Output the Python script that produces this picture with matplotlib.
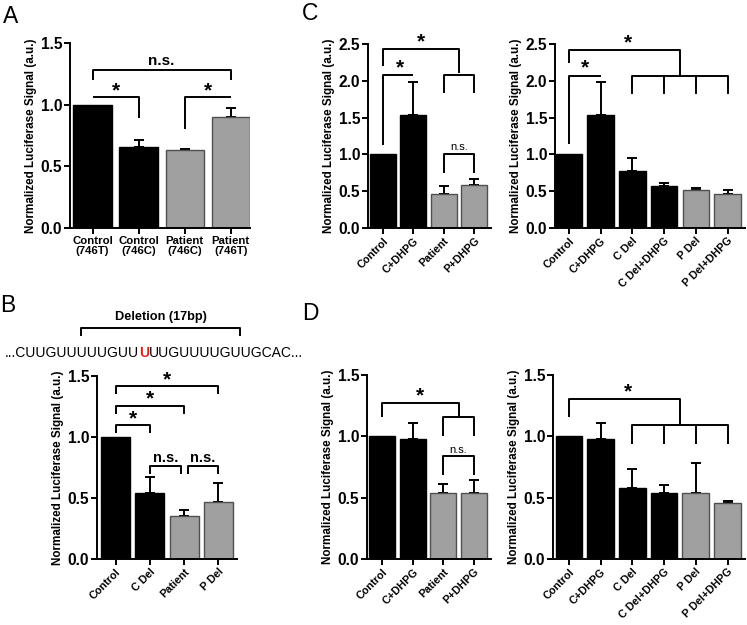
import matplotlib
matplotlib.use("Agg")
import matplotlib.pyplot as plt

plt.rcParams['font.family'] = ['Liberation Sans', 'DejaVu Sans']

W, H = 747, 625

BLACK = '#000000'
GRAY = '#a0a0a0'

# ---- data ----
a_labels = ['Control\n(746T)', 'Control\n(746C)', 'Patient\n(746C)', 'Patient\n(746T)']
a_vals = [1.00, 0.66, 0.63, 0.90]
a_errs = [0.00, 0.05, 0.01, 0.07]
a_cols = [BLACK, BLACK, GRAY, GRAY]

b_labels = ['Control', 'C Del', 'Patient', 'P Del']
b_vals = [1.00, 0.54, 0.355, 0.47]
b_errs = [0.00, 0.13, 0.045, 0.15]
b_cols = [BLACK, BLACK, GRAY, GRAY]

c4_labels = ['Control', 'C+DHPG', 'Patient', 'P+DHPG']
c4_vals = [1.00, 1.54, 0.46, 0.58]
c4_errs = [0.00, 0.44, 0.11, 0.08]
c4_cols = [BLACK, BLACK, GRAY, GRAY]

c6_labels = ['Control', 'C+DHPG', 'C Del', 'C Del+DHPG', 'P Del', 'P Del+DHPG']
c6_vals = [1.00, 1.54, 0.77, 0.575, 0.515, 0.46]
c6_errs = [0.00, 0.44, 0.18, 0.04, 0.025, 0.06]
c6_cols = [BLACK, BLACK, BLACK, BLACK, GRAY, GRAY]

d4_labels = ['Control', 'C+DHPG', 'Patient', 'P+DHPG']
d4_vals = [1.00, 0.98, 0.54, 0.54]
d4_errs = [0.00, 0.13, 0.07, 0.10]
d4_cols = [BLACK, BLACK, GRAY, GRAY]

d6_labels = ['Control', 'C+DHPG', 'C Del', 'C Del+DHPG', 'P Del', 'P Del+DHPG']
d6_vals = [1.00, 0.98, 0.58, 0.54, 0.54, 0.46]
d6_errs = [0.00, 0.13, 0.15, 0.06, 0.24, 0.01]
d6_cols = [BLACK, BLACK, BLACK, BLACK, GRAY, GRAY]

seq_pre = '...CUUGUUUUUGUU'
seq_mut = 'U'
seq_post = 'UUGUUUUGUUGCAC...'

YLABEL = 'Normalized Luciferase Signal (a.u.)'


def make_ax(fig, l, r, t, b):
    return fig.add_axes([l / W, 1 - b / H, (r - l) / W, (b - t) / H])


def bar_panel(ax, labels, vals, errs, cols, ymax, xlim, rot=0, width=0.84):
    x = list(range(len(vals)))
    edges = ['#000000' if c == BLACK else '#505050' for c in cols]
    ax.bar(x, vals, width=width, color=cols, edgecolor=edges, linewidth=1.0, zorder=2)
    for xi, v, e in zip(x, vals, errs):
        if e > 0:
            ax.errorbar(xi, v, yerr=[[0], [e]], fmt='none', ecolor='black',
                        elinewidth=1.4, capsize=3.3, capthick=1.4, zorder=1)
    ax.set_ylim(0, ymax)
    ax.set_xlim(*xlim)
    ticks = [i * 0.5 for i in range(int(ymax / 0.5) + 1)]
    ax.set_yticks(ticks)
    ax.set_yticklabels(['%.1f' % t for t in ticks], fontsize=11.2, fontweight='bold')
    ax.set_xticks(x)
    if rot:
        ax.set_xticklabels(labels, rotation=45, ha='right', rotation_mode='anchor',
                           fontsize=7.8, fontweight='bold')
    else:
        ax.set_xticklabels(labels, fontsize=8.2, fontweight='bold', linespacing=1.1)
    for s in ['top', 'right']:
        ax.spines[s].set_visible(False)
    for s in ['left', 'bottom']:
        ax.spines[s].set_linewidth(1.4)
    ax.tick_params(direction='out', width=1.4, length=4, pad=1.5)
    ax.set_ylabel(YLABEL, fontsize=8.4, fontweight='bold', labelpad=3)
    ax.set_facecolor('none')


def bracket(ax, x1, x2, y, l1=None, l2=None, lw=1.4):
    xs, ys = [], []
    if l1 is not None:
        xs.append(x1); ys.append(l1)
    xs += [x1, x2]; ys += [y, y]
    if l2 is not None:
        xs.append(x2); ys.append(l2)
    ax.plot(xs, ys, color='black', lw=lw, solid_capstyle='butt', clip_on=False)


def star(ax, x, y):
    ax.text(x, y, '*', ha='center', va='center', fontsize=15, fontweight='bold')


def ns(ax, x, y, big=False, size=None):
    if big:
        ax.text(x, y, 'n.s.', ha='center', va='bottom', fontsize=size or 10.5,
                fontweight='bold')
    else:
        ax.text(x, y, 'n.s.', ha='center', va='bottom', fontsize=8)


fig = plt.figure(figsize=(W / 100, H / 100), dpi=100)

# ---- Panel A ----
axA = make_ax(fig, 70, 250, 43, 228)
bar_panel(axA, a_labels, a_vals, a_errs, a_cols, 1.5, (-0.49, 3.42), width=0.83)
bracket(axA, 0, 3, 1.28, 1.20, 1.20)
ns(axA, 1.5, 1.30, big=True, size=11)
bracket(axA, 0, 1, 1.06, None, 0.89)
star(axA, 0.5, 1.11)
bracket(axA, 2, 3, 1.065, 0.80, None)
star(axA, 2.5, 1.11)

# ---- Panel B ----
axB = make_ax(fig, 97, 237, 376, 559)
bar_panel(axB, b_labels, b_vals, b_errs, b_cols, 1.5, (-0.54, 3.54), rot=45, width=0.85)
bracket(axB, 0, 1, 1.10, 1.03, 1.03)
star(axB, 0.5, 1.15)
bracket(axB, 0, 2, 1.258, 1.19, 1.19)
star(axB, 1.0, 1.31)
bracket(axB, 0, 3, 1.42, 1.35, 1.35)
star(axB, 1.5, 1.47)
bracket(axB, 1.0, 1.9, 0.762, 0.694, 0.694)
ns(axB, 1.45, 0.772, big=True)
bracket(axB, 2.1, 3.0, 0.762, 0.694, 0.694)
ns(axB, 2.55, 0.772, big=True)

# ---- Panel C left ----
axC1 = make_ax(fig, 368, 491, 44, 228)
bar_panel(axC1, c4_labels, c4_vals, c4_errs, c4_cols, 2.5, (-0.5, 3.56), rot=45, width=0.86)
bracket(axC1, 0, 2.5, 2.43, 2.2, 2.10)
star(axC1, 1.25, 2.53)
bracket(axC1, 0, 1, 2.08, 1.13, None)
star(axC1, 0.55, 2.18)
bracket(axC1, 2, 3, 2.08, 1.83, 1.83)
bracket(axC1, 2, 3, 1.005, 0.75, 0.75)
ns(axC1, 2.5, 1.035)

# ---- Panel C right ----
axC2 = make_ax(fig, 555, 745, 44, 228)
bar_panel(axC2, c6_labels, c6_vals, c6_errs, c6_cols, 2.5, (-0.44, 5.55), rot=45, width=0.84)
bracket(axC2, 0, 3.5, 2.42, 2.24, 2.07)
star(axC2, 1.85, 2.52)
bracket(axC2, 0, 1, 2.07, 1.14, None)
star(axC2, 0.5, 2.17)
bracket(axC2, 2, 5, 2.07, 1.82, 1.82)
for xi in (3, 4):
    axC2.plot([xi, xi], [2.07, 1.82], color='black', lw=1.4, solid_capstyle='butt')

# ---- Panel D left ----
axD1 = make_ax(fig, 367, 491, 375, 559)
bar_panel(axD1, d4_labels, d4_vals, d4_errs, d4_cols, 1.5, (-0.5, 3.56), rot=45, width=0.86)
bracket(axD1, 0, 2.5, 1.274, 1.157, 1.157)
star(axD1, 1.25, 1.33)
bracket(axD1, 2, 3, 1.157, 1.005, 1.005)
bracket(axD1, 2, 3, 0.836, 0.686, 0.686)
ns(axD1, 2.5, 0.85)

# ---- Panel D right ----
axD2 = make_ax(fig, 553, 745, 375, 559)
bar_panel(axD2, d6_labels, d6_vals, d6_errs, d6_cols, 1.5, (-0.5, 5.55), rot=45, width=0.84)
bracket(axD2, 0, 3.5, 1.307, 1.16, 1.09)
star(axD2, 1.85, 1.36)
bracket(axD2, 2, 5, 1.09, 0.94, 0.94)
for xi in (3, 4):
    axD2.plot([xi, xi], [1.09, 0.94], color='black', lw=1.4, solid_capstyle='butt')

# ---- overlay: panel letters, sequence ----
ov = fig.add_axes([0, 0, 1, 1])
ov.set_xlim(0, W)
ov.set_ylim(H, 0)
ov.axis('off')
ov.patch.set_alpha(0)
for letter, (lx, ly) in {'A': (3, 23), 'B': (0, 312), 'C': (302, 20), 'D': (302, 320)}.items():
    ov.text(lx, ly, letter, fontsize=16.5, ha='left', va='baseline')

t1 = ov.text(5, 357, seq_pre, fontsize=10, ha='left', va='baseline')
t2 = ov.annotate(seq_mut, xy=(1, 0), xycoords=t1, fontsize=10, fontweight='bold',
                 color='#e0201b', ha='left', va='bottom')
t3 = ov.annotate(seq_post, xy=(1, 0), xycoords=t2, fontsize=10, ha='left', va='bottom')
ov.plot([81, 81, 240, 240], [335, 328, 328, 335], color='black', lw=1.4)
ov.text(161, 317, 'Deletion (17bp)', fontsize=9.2, fontweight='bold', ha='center', va='center')

fig.savefig('out.png', dpi=100)
